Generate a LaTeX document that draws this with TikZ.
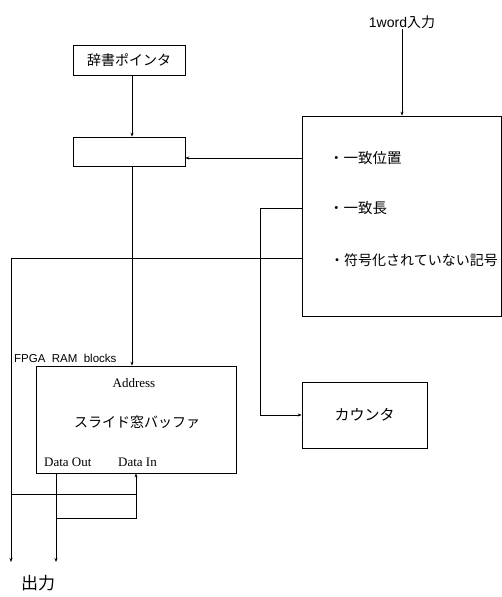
\documentclass[tikz,border=0pt]{standalone}
\usepackage{fontspec}
\setmainfont{Liberation Serif}
\newfontfamily\jpf{Noto Sans CJK JP}
\newfontfamily\sansf{Liberation Sans}
\usetikzlibrary{arrows.meta}
\begin{document}
\begin{tikzpicture}[x=1pt,y=-1pt,
  box/.style={draw,line width=0.7pt,inner sep=0pt},
  conn/.style={line width=0.6pt},
  arr/.style={conn,-{Stealth[length=4pt,width=3pt]}},
  jtext/.style={font=\jpf\fontsize{14}{16}\selectfont,inner sep=0pt},
  etext/.style={font=\fontsize{13}{15}\selectfont,inner sep=0pt}]
\useasboundingbox (0,0) rectangle (502,597);
% boxes
\node[box,minimum width=112pt,minimum height=30pt,jtext] (dict) at (129,60) {辞書ポインタ};
\node[box,minimum width=112pt,minimum height=29pt] (reg) at (129,151.5) {};
\node[box,minimum width=199pt,minimum height=200pt] (big) at (401.5,216) {};
\node[box,minimum width=125pt,minimum height=66pt,jtext,font=\jpf\fontsize{15}{17}\selectfont] (cnt) at (364.5,415) {カウンタ};
\node[box,minimum width=200pt,minimum height=107pt] (buf) at (136,419.5) {};
% texts
\node[jtext,font=\sansf\fontsize{14}{16}\selectfont] (in) at (402,22) {1word{\jpf 入力}};
\node[jtext,anchor=west,font=\jpf\fontsize{14.5}{16}\selectfont] (t1) at (329,158) {・一致位置};
\node[jtext,anchor=west,font=\jpf\fontsize{14.5}{16}\selectfont] (t2) at (329,208) {・一致長};
\node[jtext,anchor=west] (t3) at (330,260) {・符号化されていない記号};
\node[inner sep=0pt,anchor=base west,font=\sansf\fontsize{11.5}{13}\selectfont] (fpga) at (14,362) {FPGA\ \ RAM\ \ blocks};
\node[etext] (addr) at (134,383) {Address};
\node[jtext] (slw) at (137,422) {スライド窓バッファ};
\node[etext,anchor=west] (dout) at (44,462) {Data Out};
\node[etext,anchor=west] (din) at (118,462) {Data In};
\node[jtext,font=\jpf\fontsize{17}{19}\selectfont] (outl) at (38,583) {出力};
% coordinates
\coordinate (o1) at (11,562);
\coordinate (o2) at (56,562);
\coordinate (fb) at (56,518);
\coordinate (sj) at (11,494);
\coordinate (dj) at (136,494);
\coordinate (ax) at (132,0);
% connectors
\draw[arr] (dict.south -| ax) -- (reg.north -| ax);
\draw[arr] (in.south) -- (in.south |- big.north);
\draw[arr] (big.west |- 0,158) -- (reg.east |- 0,158);
\draw[arr] (reg.south -| ax) -- (buf.north -| ax);
\draw[arr] (big.west |- 0,208) -| (260,415) -- (cnt.west);
\draw[arr] (big.west |- 0,258) -| (o1);
\draw[arr] (buf.south -| o2) -- (o2);
\draw[conn] (sj) -- (dj);
\draw[arr] (fb) -| (buf.south -| dj);
\end{tikzpicture}
\end{document}
